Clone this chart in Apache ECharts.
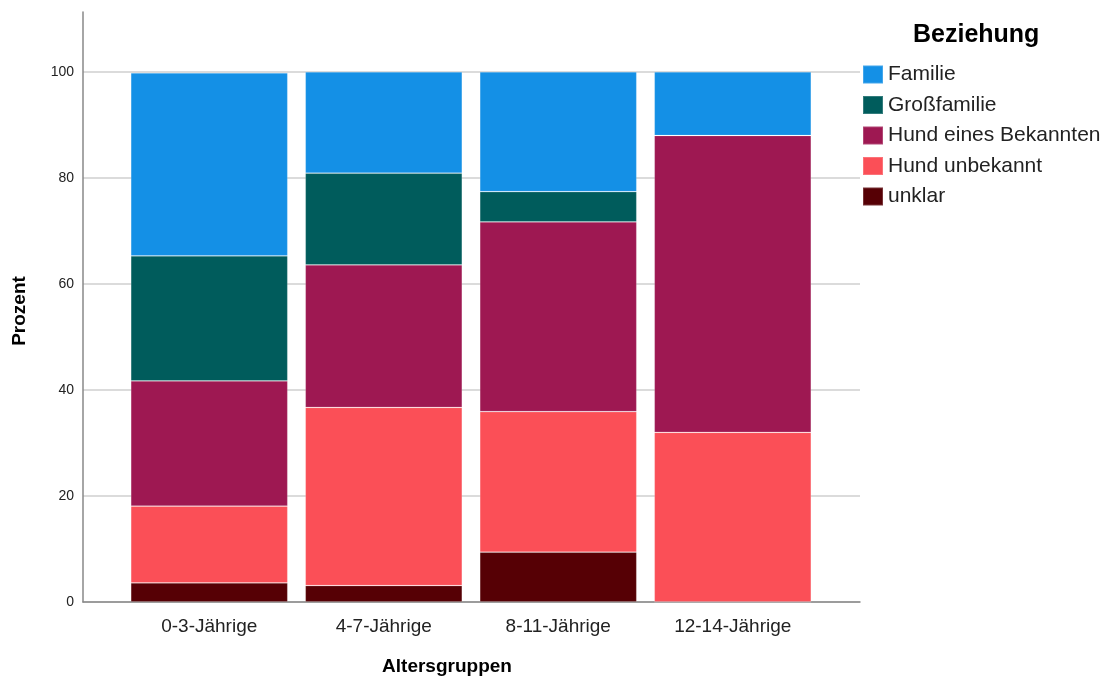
<!DOCTYPE html>
<html>
<head>
<meta charset="utf-8">
<script src="https://cdn.jsdelivr.net/npm/echarts@6/dist/echarts.min.js"></script>
<style>html,body{margin:0;padding:0;background:#fff}#c{width:1108px;height:678px}</style>
</head>
<body>
<div id="c"></div>
<script>
const categories = ['0-3-Jährige', '4-7-Jährige', '8-11-Jährige', '12-14-Jährige'];
const seriesNames = ['Familie', 'Großfamilie', 'Hund eines Bekannten', 'Hund unbekannt', 'unklar'];
const familie = [34.5, 19.1, 22.6, 12.0];
const grossfamilie = [23.6, 17.3, 5.7, 0];
const hundBekannter = [23.6, 26.9, 35.8, 56.0];
const hundUnbekannt = [14.5, 33.6, 26.5, 32.0];
const unklar = [3.6, 3.1, 9.4, 0];
const yTicks = [0, 20, 40, 60, 80, 100];

const colors = {
  'Familie': '#1490e6',
  'Großfamilie': '#005c5c',
  'Hund eines Bekannten': '#9e1852',
  'Hund unbekannt': '#fb4f57',
  'unklar': '#560005'
};
const valuesByName = {
  'Familie': familie,
  'Großfamilie': grossfamilie,
  'Hund eines Bekannten': hundBekannter,
  'Hund unbekannt': hundUnbekannt,
  'unklar': unklar
};
// stacking order bottom -> top
const stackOrder = ['unklar', 'Hund unbekannt', 'Hund eines Bekannten', 'Großfamilie', 'Familie'];
const FONT = '"Liberation Sans", Arial, sans-serif';
const Y_MAX = 111.3;

const chart = echarts.init(document.getElementById('c'), null, {renderer: 'canvas'});
chart.setOption({
  animation: false,
  backgroundColor: '#ffffff',
  grid: [
    {left: 83, right: 248, top: 12, bottom: 76, containLabel: false},
    {left: 122, right: 288, top: 12, bottom: 76, containLabel: false}
  ],
  legend: {
    data: seriesNames,
    orient: 'vertical',
    left: 862,
    top: 64,
    padding: 0,
    itemWidth: 20,
    itemHeight: 18,
    itemGap: 9.5,
    icon: 'rect',
    textStyle: {fontFamily: FONT, fontSize: 21, color: '#222'},
    selectedMode: false
  },
  graphic: [
    {type: 'text', left: 913, top: 23, style: {text: 'Beziehung', font: 'bold 25px ' + FONT, fill: '#000'}},
    {type: 'text', x: 447, y: 667, style: {text: 'Altersgruppen', font: 'bold 19px ' + FONT, fill: '#000', align: 'center', verticalAlign: 'middle'}},
    {type: 'text', x: 20, y: 311, rotation: Math.PI / 2, style: {text: 'Prozent', font: 'bold 19px ' + FONT, fill: '#000', align: 'center', verticalAlign: 'middle'}}
  ],
  xAxis: [
    {
      gridIndex: 0,
      type: 'category',
      data: categories,
      axisTick: {show: false},
      axisLine: {lineStyle: {color: '#888', width: 1.5}},
      axisLabel: {show: false},
      splitLine: {show: false}
    },
    {
      gridIndex: 1,
      type: 'category',
      data: categories,
      axisTick: {show: false},
      axisLine: {show: false},
      axisLabel: {fontFamily: FONT, fontSize: 19, color: '#222', margin: 15},
      splitLine: {show: false}
    }
  ],
  yAxis: [
    {
      gridIndex: 0,
      type: 'value',
      min: 0,
      max: Y_MAX,
      interval: 20,
      axisLine: {show: true, lineStyle: {color: '#888', width: 1.5}},
      axisTick: {show: false},
      axisLabel: {
        fontFamily: FONT, fontSize: 14, color: '#222', margin: 9,
        showMaxLabel: false,
        formatter: v => (yTicks.indexOf(v) >= 0 ? String(v) : '')
      },
      splitLine: {show: true, showMaxLine: false, lineStyle: {color: '#cfcfcf', width: 1.5}}
    },
    {
      gridIndex: 1,
      type: 'value',
      min: 0,
      max: Y_MAX,
      interval: 20,
      show: false,
      splitLine: {show: false}
    }
  ],
  series: stackOrder.map(name => ({
    name: name,
    type: 'bar',
    stack: 'total',
    xAxisIndex: 1,
    yAxisIndex: 1,
    barWidth: 157,
    data: valuesByName[name],
    itemStyle: {color: colors[name], borderColor: 'rgba(255,255,255,0.2)', borderWidth: 0.8},
    emphasis: {disabled: true}
  }))
});
</script>
</body>
</html>
